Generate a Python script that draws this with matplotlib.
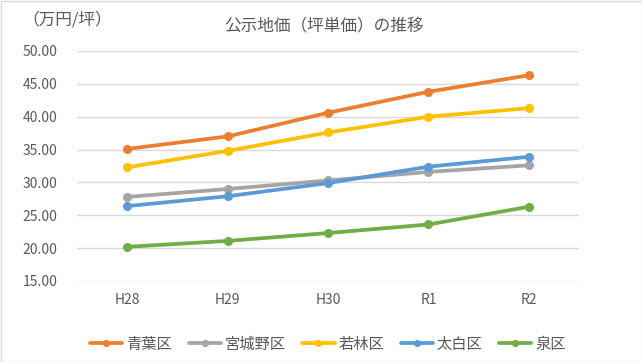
import matplotlib
matplotlib.use("Agg")
import matplotlib.pyplot as plt
from matplotlib.patches import Rectangle

plt.rcParams['font.family'] = ['Noto Sans CJK JP', 'DejaVu Sans']

categories = ["H28", "H29", "H30", "R1", "R2"]
aoba = [35.1, 37.0, 40.6, 43.8, 46.3]
miyagino = [27.8, 29.0, 30.3, 31.6, 32.6]
wakabayashi = [32.3, 34.8, 37.6, 40.0, 41.3]
taihaku = [26.4, 27.9, 29.9, 32.4, 33.9]
izumi = [20.2, 21.1, 22.3, 23.6, 26.3]
series_names = ["青葉区", "宮城野区", "若林区", "太白区", "泉区"]
yticks = [15, 20, 25, 30, 35, 40, 45, 50]

colors = ["#ED7D31", "#A5A5A5", "#FFC000", "#5B9BD5", "#70AD47"]
W, H = 642, 362
fig = plt.figure(figsize=(W/100, H/100), dpi=100)
fig.patches.append(Rectangle((0.5/W, 0.5/H), 1-1/W, 1-1/H, transform=fig.transFigure,
                             fill=False, edgecolor="#D9D9D9", linewidth=1))

ax = fig.add_axes([77/W, 1-281/H, (579-77)/W, (281-51)/H])
x = list(range(len(categories)))
for vals, name, c in zip([aoba, miyagino, wakabayashi, taihaku, izumi], series_names, colors):
    ax.plot(x, vals, color=c, linewidth=2.7, marker='o', markersize=5.5, label=name,
            solid_capstyle='round')

ax.set_xlim(-0.5, 4.5)
ax.set_ylim(15, 50)
ax.set_yticks(yticks)
ax.set_yticklabels([f"{v:.2f}" for v in yticks])
ax.set_xticks(x)
ax.set_xticklabels(categories)
ax.grid(axis='y', color="#D9D9D9", linewidth=1)
ax.set_axisbelow(True)
for s in ax.spines.values():
    s.set_visible(False)
ax.tick_params(axis='both', length=0, labelsize=10, colors="#595959", labelcolor="#595959")
ax.tick_params(axis='y', pad=14)
ax.tick_params(axis='x', pad=9)

fig.text(324/W, 1-27/H, "公示地価（坪単価）の推移", ha='center', va='center', fontsize=12, color="#595959")
fig.text(22/W, 1-20/H, "（万円/坪）", ha='left', va='center', fontsize=12, color="#595959")

leg = fig.legend(loc='center', bbox_to_anchor=(328/W, 1-344/H), ncol=5, frameon=False,
                 fontsize=11, labelcolor="#595959", handlelength=2.1, handletextpad=0.25,
                 columnspacing=1.1, markerscale=0.75)

fig.savefig("out.png", dpi=100)
